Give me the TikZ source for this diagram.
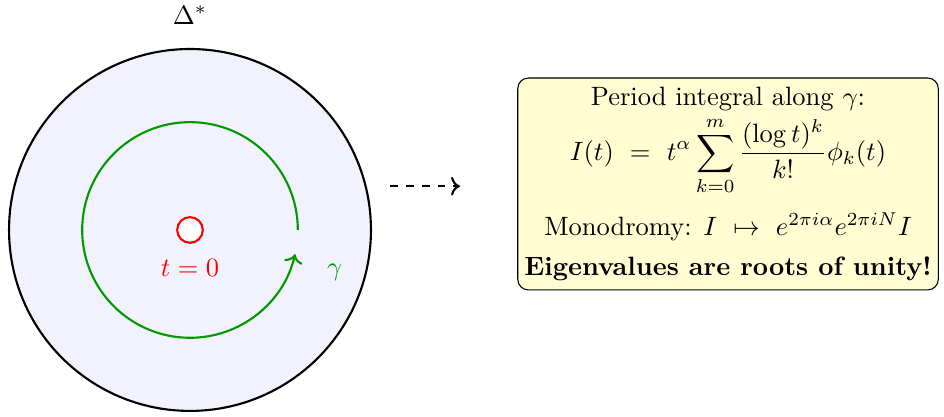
\documentclass[tikz,border=0pt]{standalone}
\usepackage{amsmath}
\usetikzlibrary{arrows.meta,positioning,calc}

\begin{document}
\begin{tikzpicture}[
  >=To,
  disk/.style={draw, thick, fill=blue!5},
  loop/.style={green!60!black, thick},
  puncture/.style={
    draw=red,
    thick,
    circle,
    fill=white,
    minimum size=3.4mm,
    inner sep=0pt
  },
  infobox/.style={
    draw,
    rounded corners=4pt,
    fill=yellow!18,
    align=center,
    inner xsep=2.5pt,
    inner ysep=3.5pt
  }
]
\useasboundingbox (-2.52,-2.47) rectangle (10.0,3.05);

% punctured disc
\draw[disk] (0,0) circle (2.4);
\node (delta) at (0,2.85) {$\Delta^*$};

\node[puncture] (origin) at (0,0) {};
\node[red, below=0.08cm of origin] (tzero) {$t=0$};

% loop around the puncture
\draw[loop, ->] (0:1.43) arc[start angle=0, end angle=347, radius=1.43];
\node[green!60!black] (gamma) at (1.92,-0.56) {$\gamma$};

\coordinate (from) at (2.65,0.58);

\node[infobox, anchor=west] (period) at (4.34,0.61) {%
  Period integral along $\gamma$:\\[1pt]
  $\displaystyle I(t)\ =\ t^{\alpha}\sum_{k=0}^{m}\frac{(\log t)^k}{k!}\phi_k(t)$\\[6pt]
  Monodromy: $I\ \mapsto\ e^{2\pi i\alpha}e^{2\pi i N}I$\\[3pt]
  \textbf{Eigenvalues are roots of unity!}};

\draw[->, thick, dashed] (from) -- ++(0.93,0);

\end{tikzpicture}
\end{document}
